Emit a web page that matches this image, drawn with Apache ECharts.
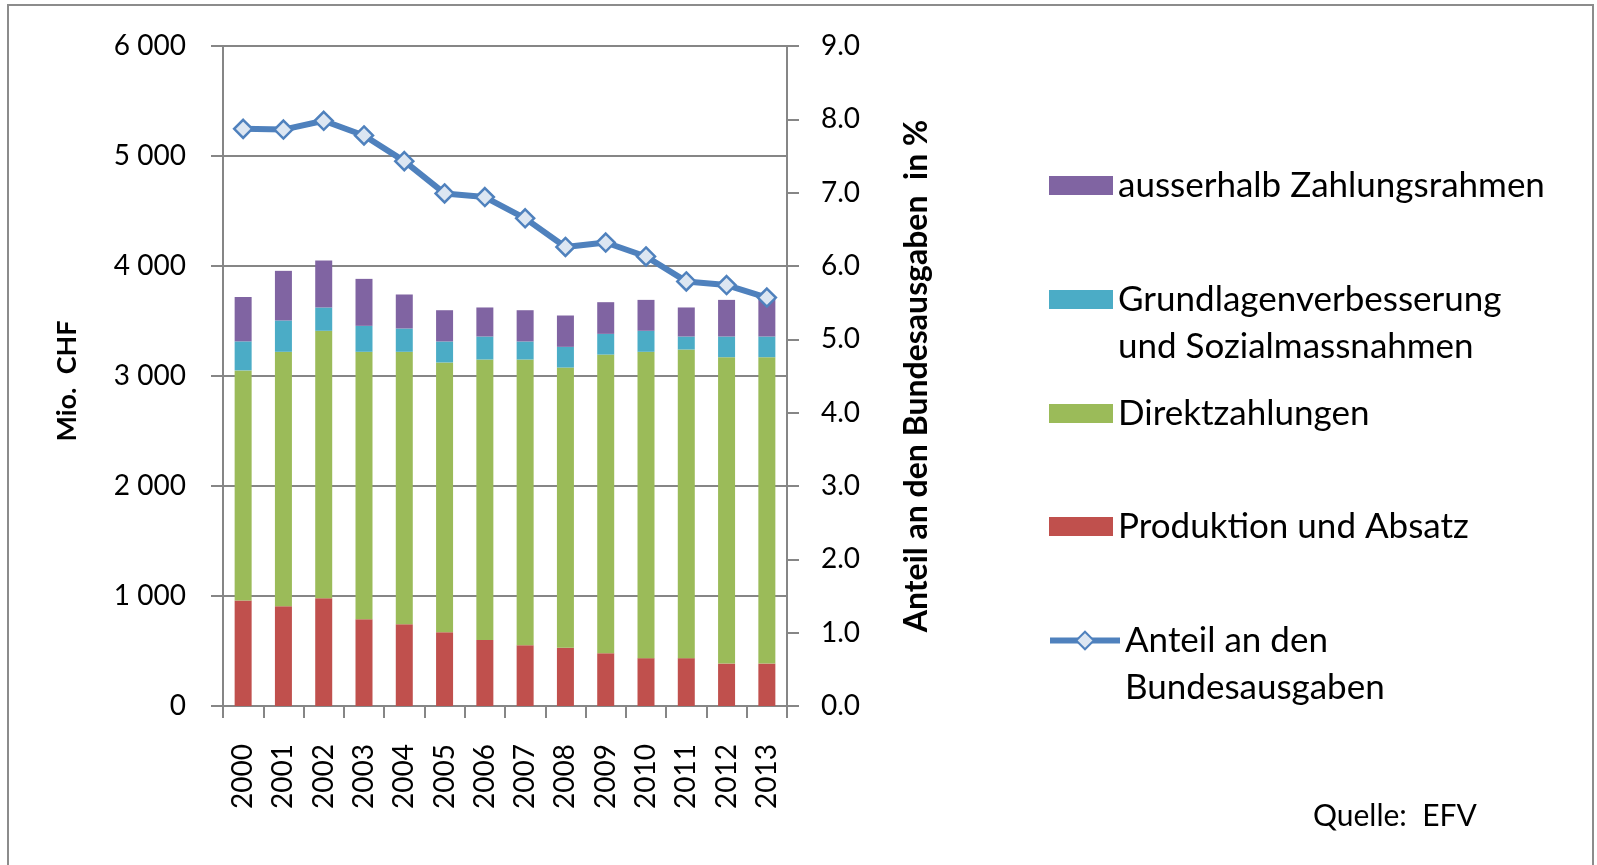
<!DOCTYPE html>
<html>
<head>
<meta charset="utf-8">
<script src="https://cdn.jsdelivr.net/npm/echarts@6/dist/echarts.min.js"></script>
<style>
  html, body { margin: 0; padding: 0; background: #fff; }
  #chart { width: 1597px; height: 865px; }
</style>
</head>
<body>
<div id="chart"></div>
<script>
// Daten (Mio. CHF bzw. %)
const years = ['2000', '2001', '2002', '2003', '2004', '2005', '2006', '2007', '2008', '2009', '2010', '2011', '2012', '2013']
const produktion = [960, 907, 980, 789, 744, 671, 601, 553, 529, 480, 435, 435, 386, 386]
const direktzahlungen = [2091, 2313, 2431, 2431, 2476, 2452, 2549, 2597, 2548, 2715, 2785, 2806, 2785, 2785]
const grundlagen = [264, 285, 212, 236, 212, 191, 209, 164, 188, 188, 191, 118, 188, 188]
const ausserhalb = [403, 451, 427, 427, 309, 284, 264, 284, 285, 288, 281, 264, 333, 361]
const anteil = [7.87, 7.86, 7.98, 7.78, 7.43, 6.99, 6.94, 6.65, 6.26, 6.32, 6.13, 5.79, 5.74, 5.57]

const font = 'Lato, "Open Sans", sans-serif'
const gray = '#868686'

const names = {
  aus: 'ausserhalb Zahlungsrahmen',
  grund: 'Grundlagenverbesserung und Sozialmassnahmen',
  direkt: 'Direktzahlungen',
  prod: 'Produktion und Absatz',
  anteil: 'Anteil an den Bundesausgaben'
}

// eine Legende pro Eintrag, damit die Abstände wie im Original sind
function legendItem(name, top, isLine) {
  return {
    data: [name],
    orient: 'vertical',
    left: isLine ? 1042 : 1044,
    top: top,
    icon: isLine ? undefined : 'rect',
    itemWidth: isLine ? 70 : 64,
    itemHeight: isLine ? 22 : 19,
    itemGap: 0,
    textGap: isLine ? 8 : 11,
    selectedMode: false,
    lineStyle: { width: 6 },
    textStyle: {
      fontFamily: font,
      fontSize: 35,
      color: '#000',
      lineHeight: 47
    },
    formatter: function(n) {
      // leere erste Zeile, damit das Symbol auf Höhe der ersten Textzeile sitzt
      if (n === names.grund) return ' \nGrundlagenverbesserung\nund Sozialmassnahmen'
      if (n === names.anteil) return ' \nAnteil an den\nBundesausgaben'
      return n
    }
  }
}

const chart = echarts.init(document.getElementById('chart'))
chart.setOption({
  backgroundColor: '#fff',
  animation: false,
  grid: { left: 223, right: 810, top: 46, bottom: 159 },
  legend: [
    legendItem(names.aus, 157, false),
    legendItem(names.grund, 224, false),
    legendItem(names.direkt, 385, false),
    legendItem(names.prod, 498, false),
    legendItem(names.anteil, 565, true)
  ],
  graphic: [
    {
      type: 'rect',
      shape: { x: 8, y: 5, width: 1585, height: 880 },
      style: { fill: 'none', stroke: '#8c8c8c', lineWidth: 2 },
      silent: true
    },
    {
      type: 'text',
      left: 1313,
      top: 801,
      style: { text: 'Quelle:  EFV', fontFamily: font, fontSize: 30, fill: '#000' }
    }
  ],
  xAxis: {
    type: 'category',
    data: years,
    boundaryGap: true,
    axisLine: { lineStyle: { color: gray, width: 2 } },
    axisTick: { show: true, length: 12, lineStyle: { color: gray, width: 2 } },
    axisLabel: { rotate: 90, margin: 38, fontFamily: font, fontSize: 28, color: '#000' }
  },
  yAxis: [
    {
      type: 'value',
      min: 0,
      max: 6000,
      interval: 1000,
      name: 'Mio.  CHF',
      nameLocation: 'middle',
      nameRotate: 90,
      nameGap: 142,
      nameTextStyle: { fontFamily: font, fontSize: 27, fontWeight: 'bold', color: '#000', padding: [0, 10, 0, 0] },
      axisLine: { show: true, lineStyle: { color: gray, width: 2 } },
      axisTick: { show: true, length: 12, lineStyle: { color: gray, width: 2 } },
      splitLine: { show: true, lineStyle: { color: gray, width: 2 } },
      axisLabel: {
        margin: 37,
        fontFamily: font,
        fontSize: 28,
        color: '#000',
        formatter: function(v) { return String(v).replace(/\B(?=(\d{3})+(?!\d))/g, ' ') }
      }
    },
    {
      type: 'value',
      position: 'right',
      min: 0,
      max: 9,
      interval: 1,
      name: 'Anteil an den Bundesausgaben  in %',
      nameLocation: 'middle',
      nameRotate: 90,
      nameGap: 114,
      nameTextStyle: { fontFamily: font, fontSize: 32, fontWeight: 'bold', color: '#000' },
      axisLine: { show: true, lineStyle: { color: gray, width: 2 } },
      axisTick: { show: true, length: 12, lineStyle: { color: gray, width: 2 } },
      splitLine: { show: false },
      axisLabel: {
        margin: 34,
        fontFamily: font,
        fontSize: 28,
        color: '#000',
        formatter: function(v) { return v.toFixed(1) }
      }
    }
  ],
  series: [
    { name: names.prod, type: 'bar', stack: 'total', barWidth: 17, data: produktion, itemStyle: { color: '#C0504D' } },
    { name: names.direkt, type: 'bar', stack: 'total', barWidth: 17, data: direktzahlungen, itemStyle: { color: '#9BBB59' } },
    { name: names.grund, type: 'bar', stack: 'total', barWidth: 17, data: grundlagen, itemStyle: { color: '#4BACC6' } },
    { name: names.aus, type: 'bar', stack: 'total', barWidth: 17, data: ausserhalb, itemStyle: { color: '#8064A2' } },
    {
      name: names.anteil,
      type: 'line',
      yAxisIndex: 1,
      data: anteil,
      symbol: 'diamond',
      symbolSize: 18,
      z: 5,
      lineStyle: { color: '#4F81BD', width: 6 },
      itemStyle: { color: '#DCE6F2', borderColor: '#4F81BD', borderWidth: 2.5 },
      emphasis: { disabled: true }
    }
  ]
})
</script>
</body>
</html>
